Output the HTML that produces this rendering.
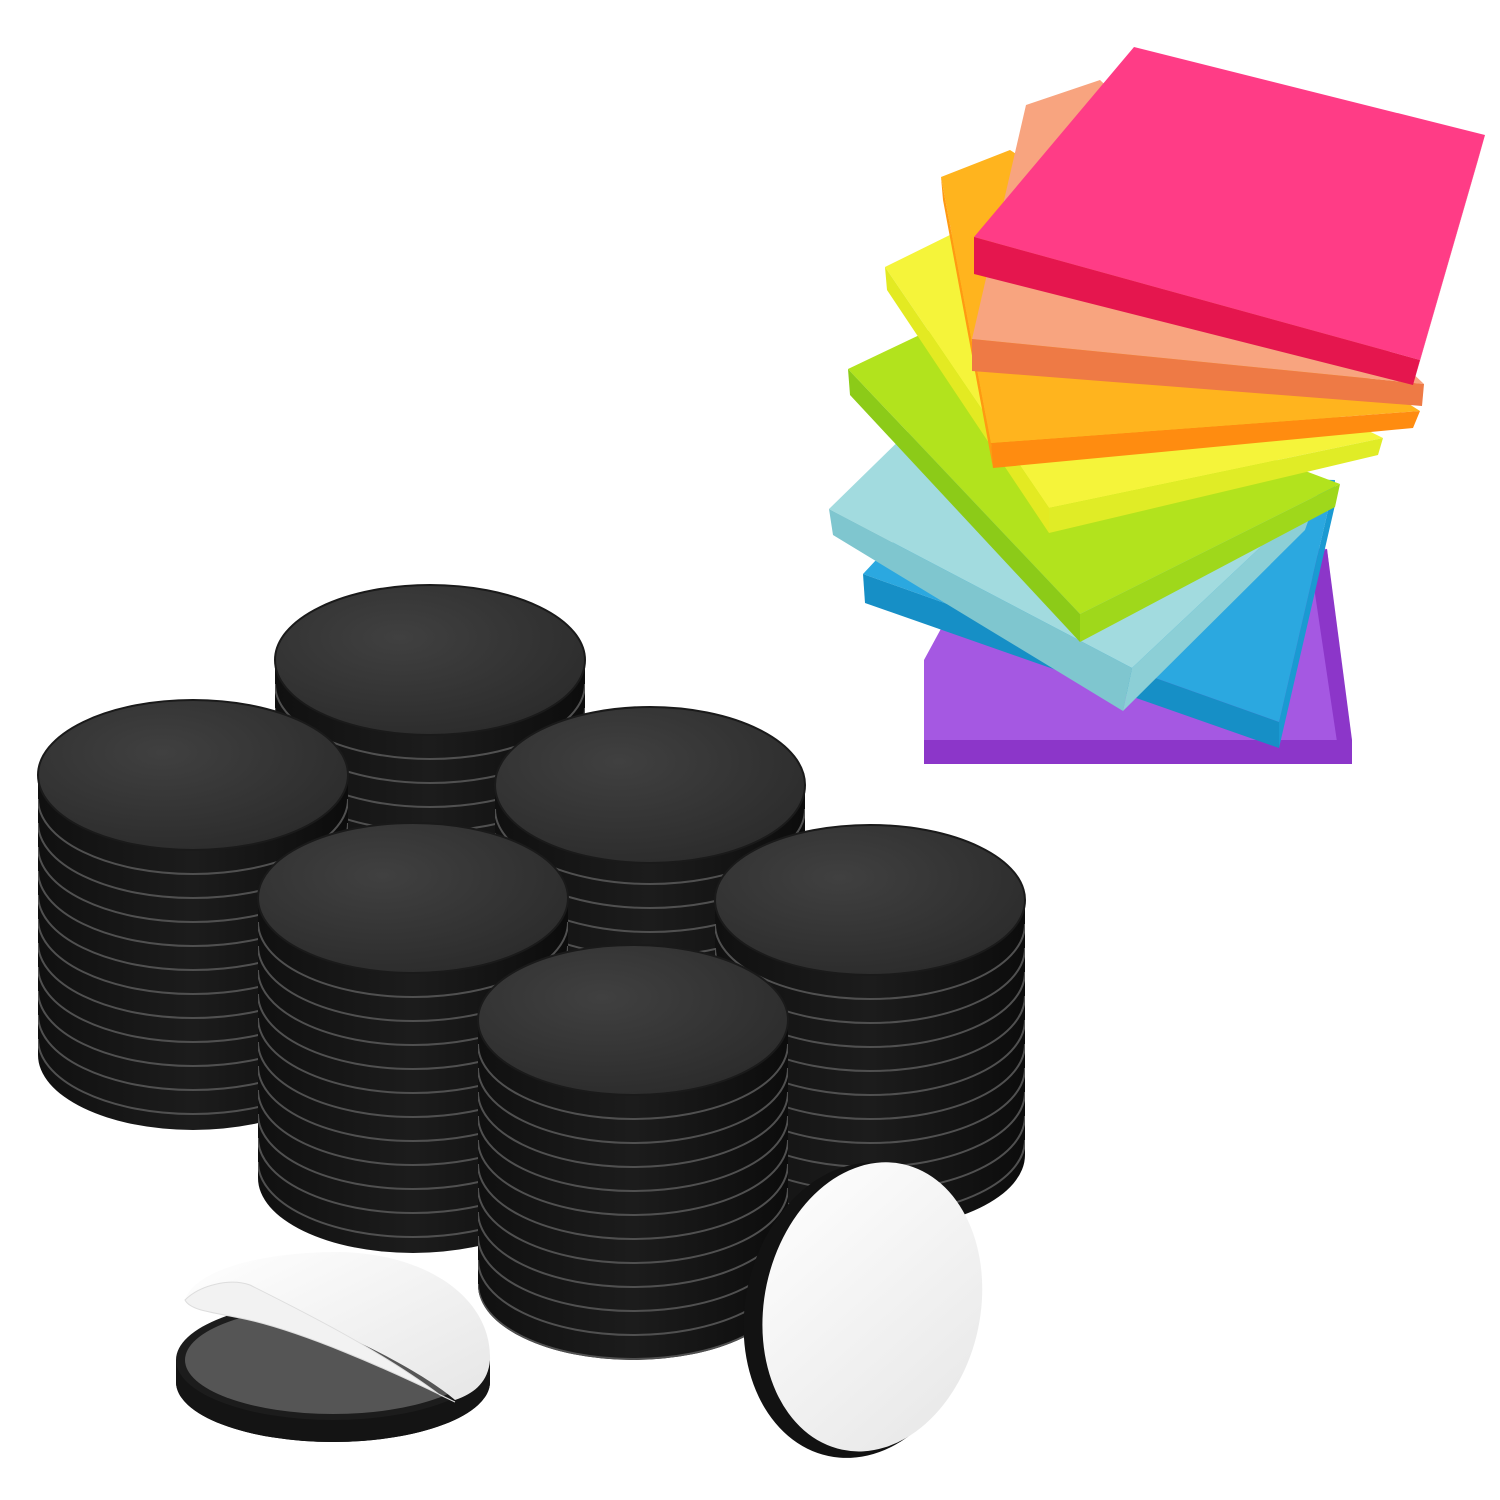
<!DOCTYPE html>
<html><head><meta charset="utf-8"><style>html,body{margin:0;padding:0;background:#fff}svg{display:block}</style></head>
<body>
<svg width="1500" height="1500" viewBox="0 0 1500 1500" xmlns="http://www.w3.org/2000/svg">
<defs>
<radialGradient id="top" cx="0.4" cy="0.35" r="0.75">
<stop offset="0" stop-color="#404040"/><stop offset="1" stop-color="#2a2a2a"/>
</radialGradient>
<linearGradient id="body" x1="0" x2="1" y1="0" y2="0">
<stop offset="0" stop-color="#101010"/><stop offset="0.5" stop-color="#1c1c1c"/><stop offset="1" stop-color="#0c0c0c"/>
</linearGradient>
<linearGradient id="wht" x1="0" x2="1" y1="0" y2="1">
<stop offset="0" stop-color="#ffffff"/><stop offset="1" stop-color="#e6e6e6"/>
</linearGradient>
<g id="rings" fill="none" stroke="#505050" stroke-width="2">
<path d="M-155,24 A155,75 0 0 0 155,24"/>
<path d="M-155,48 A155,75 0 0 0 155,48"/>
<path d="M-155,72 A155,75 0 0 0 155,72"/>
<path d="M-155,96 A155,75 0 0 0 155,96"/>
<path d="M-155,120 A155,75 0 0 0 155,120"/>
<path d="M-155,144 A155,75 0 0 0 155,144"/>
<path d="M-155,168 A155,75 0 0 0 155,168"/>
<path d="M-155,192 A155,75 0 0 0 155,192"/>
<path d="M-155,216 A155,75 0 0 0 155,216"/>
<path d="M-155,240 A155,75 0 0 0 155,240"/>
<path d="M-155,264 A155,75 0 0 0 155,264"/>
<path d="M-155,288 A155,75 0 0 0 155,288"/>
<path d="M-155,312 A155,75 0 0 0 155,312"/>
</g>
<clipPath id="c170"><path d="M-155,0 V170 A155,75 0 0 0 155,170 V0Z"/></clipPath>
<clipPath id="c160"><path d="M-155,0 V160 A155,75 0 0 0 155,160 V0Z"/></clipPath>
<clipPath id="c355"><path d="M-155,0 V280 A155,75 0 0 0 155,280 V0Z"/></clipPath>
<clipPath id="c330"><path d="M-155,0 V255 A155,75 0 0 0 155,255 V0Z"/></clipPath>
<clipPath id="c340"><path d="M-155,0 V265 A155,75 0 0 0 155,265 V0Z"/></clipPath>
</defs>

<!-- Sticky notes, bottom to top -->
<!-- purple -->
<polygon points="924,660 1000,520 1327,549 1352,762 924,762" fill="#a558e2"/>
<polygon points="924,740 1352,740 1352,764 924,764" fill="#8c36c9"/>
<polygon points="1327,549 1352,740 1340,762 1310,560" fill="#8c36c9"/>
<!-- blue -->
<polygon points="863,574 960,470 1335,480 1279,722" fill="#2ba8e0"/>
<polygon points="863,574 1279,722 1279,748 865,603" fill="#168fc6"/>
<polygon points="1335,480 1279,722 1279,748 1335,505" fill="#1a9ad2"/>
<!-- light blue -->
<polygon points="829,509 920,420 1318,493 1132,668" fill="#a2dbdf"/>
<polygon points="829,509 1132,668 1123,711 833,535" fill="#7fc6cf"/>
<polygon points="1318,493 1132,668 1123,711 1305,530" fill="#8ccfd6"/>
<!-- lime -->
<polygon points="848,369 930,330 1340,484 1080,614" fill="#b2e31d"/>
<polygon points="848,369 1080,614 1080,642 850,395" fill="#8ccb18"/>
<polygon points="1340,484 1080,614 1080,642 1335,507" fill="#9fd81b"/>
<!-- yellow -->
<polygon points="885,267 960,230 1383,438 1049,508" fill="#f5f43a"/>
<polygon points="885,267 1049,508 1049,533 887,290" fill="#e3ea22"/>
<polygon points="1383,438 1049,508 1049,533 1378,455" fill="#e0ec26"/>
<!-- orange -->
<polygon points="941,177 1010,150 1420,411 991,443" fill="#ffb41e"/>
<polygon points="941,177 991,443 993,468 943,200" fill="#ff9a12"/>
<polygon points="1420,411 991,443 993,468 1413,428" fill="#ff8c10"/>
<!-- salmon -->
<polygon points="1026,105 1100,80 1424,384 972,339" fill="#f8a47f"/>
<polygon points="972,339 1424,384 1422,406 972,371" fill="#ee7a45"/>
<!-- pink -->
<polygon points="1134,47 1485,135 1420,360 974,237" fill="#ff3c86"/>
<polygon points="974,237 1420,360 1413,385 974,274" fill="#e5164e"/>
<polygon points="1485,135 1420,360 1413,385 1478,160" fill="#f0286a"/>

<!-- Disc stacks -->
<!-- 1 back center -->
<g transform="translate(430,660)">
<path d="M-155,0 V170 A155,75 0 0 0 155,170 V0Z" fill="url(#body)"/>
<g clip-path="url(#c170)"><use href="#rings"/></g>
<ellipse rx="155" ry="75" fill="url(#top)" stroke="#1a1a1a" stroke-width="2"/>
</g>
<!-- 2 left -->
<g transform="translate(193,775)">
<path d="M-155,0 V280 A155,75 0 0 0 155,280 V0Z" fill="url(#body)"/>
<g clip-path="url(#c355)"><use href="#rings"/></g>
<ellipse rx="155" ry="75" fill="url(#top)" stroke="#1a1a1a" stroke-width="2"/>
</g>
<!-- 3 right middle -->
<g transform="translate(650,785)">
<path d="M-155,0 V160 A155,75 0 0 0 155,160 V0Z" fill="url(#body)"/>
<g clip-path="url(#c160)"><use href="#rings"/></g>
<ellipse rx="155" ry="78" fill="url(#top)" stroke="#1a1a1a" stroke-width="2"/>
</g>
<!-- 4 center -->
<g transform="translate(413,898)">
<path d="M-155,0 V280 A155,75 0 0 0 155,280 V0Z" fill="url(#body)"/>
<g clip-path="url(#c355)"><use href="#rings"/></g>
<ellipse rx="155" ry="75" fill="url(#top)" stroke="#1a1a1a" stroke-width="2"/>
</g>
<!-- 5 right -->
<g transform="translate(870,900)">
<path d="M-155,0 V255 A155,75 0 0 0 155,255 V0Z" fill="url(#body)"/>
<g clip-path="url(#c330)"><use href="#rings"/></g>
<ellipse rx="155" ry="75" fill="url(#top)" stroke="#1a1a1a" stroke-width="2"/>
</g>
<!-- 6 front center -->
<g transform="translate(633,1020)">
<path d="M-155,0 V265 A155,75 0 0 0 155,265 V0Z" fill="url(#body)"/>
<g clip-path="url(#c340)"><use href="#rings"/></g>
<ellipse rx="155" ry="75" fill="url(#top)" stroke="#1a1a1a" stroke-width="2"/>
</g>

<!-- loose disc lower left -->
<g>
<path d="M176,1360 V1382 A157,60 0 0 0 490,1382 V1360Z" fill="#141414"/>
<ellipse cx="333" cy="1382" rx="157" ry="60" fill="#141414"/>
<ellipse cx="333" cy="1360" rx="157" ry="60" fill="#1c1c1c"/>
<ellipse cx="333" cy="1360" rx="148" ry="54" fill="#555"/>
<path d="M185,1300 C195,1270 260,1252 340,1252 C430,1254 492,1300 490,1360 C488,1385 470,1395 455,1400 C420,1370 340,1330 260,1300 C230,1292 200,1300 185,1300Z" fill="url(#wht)"/>
<path d="M185,1300 C200,1285 230,1278 250,1285 C300,1310 380,1350 440,1395 L455,1402 C390,1370 300,1330 240,1318 C210,1312 190,1310 185,1300Z" fill="#f2f2f2" stroke="#ddd" stroke-width="1"/>
</g>

<!-- standing disc -->
<g transform="rotate(12 868 1308)">
<ellipse cx="860" cy="1312" rx="114" ry="149" fill="#121212"/>
<ellipse cx="872" cy="1306" rx="108" ry="146" fill="url(#wht)"/>
</g>
</svg>
</body></html>
